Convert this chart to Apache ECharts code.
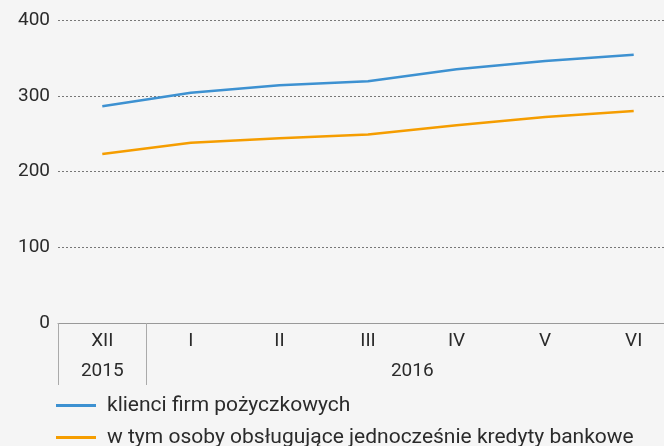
<!DOCTYPE html>
<html>
<head>
<meta charset="utf-8">
<script src="https://cdn.jsdelivr.net/npm/echarts@6/dist/echarts.min.js"></script>
<style>
  html, body { margin: 0; padding: 0; background: #f5f5f5; overflow: hidden; }
  #figure { width: 690px; height: 446px; }
</style>
</head>
<body>
<div id="figure"></div>
<script>
// months (XII 2015 - VI 2016), values in thousands of clients
let months = ['XII', 'I', 'II', 'III', 'IV', 'V', 'VI'];
let years = [{ label: '2015', from: 0, to: 0 }, { label: '2016', from: 1, to: 6 }];
let series_names = ['klienci firm pożyczkowych', 'w tym osoby obsługujące jednocześnie kredyty bankowe'];
let klienci = [286, 304, 314, 319, 335, 346, 354];
let w_tym = [223, 238, 244, 249, 261, 272, 280];
let y_ticks = [0, 100, 200, 300, 400];

let font = 'Roboto';
let fontSize = 19;
let textColor = '#2b2b2b';
let figure = document.getElementById('figure');
let myChart = echarts.init(figure);

function legend_item(name, top) {
    return {
        left: 56,
        top: top,
        padding: 0,
        itemWidth: 40,
        itemHeight: 3,
        icon: 'rect',
        textStyle: { fontFamily: font, fontSize: 21, color: textColor, padding: [0, 0, 0, 6] },
        data: [name]
    };
}

myChart.setOption({
    backgroundColor: '#f5f5f5',
    animation: false,
    textStyle: { fontFamily: font },
    grid: { left: 58, top: 20, width: 620, height: 303 },
    legend: [legend_item(series_names[0], 395), legend_item(series_names[1], 427)],
    xAxis: {
        type: 'category',
        data: months,
        boundaryGap: true,
        axisLine: { lineStyle: { color: '#999', width: 1 } },
        axisTick: {
            show: true,
            length: 62,
            interval: function (index) { return index <= 1; },
            lineStyle: { color: '#aaa', width: 1 }
        },
        axisLabel: { color: textColor, fontSize: fontSize, margin: 9, fontFamily: font }
    },
    yAxis: {
        type: 'value',
        min: y_ticks[0],
        max: y_ticks[y_ticks.length - 1],
        interval: 100,
        axisLine: { show: false },
        axisTick: { show: false },
        axisLabel: { color: textColor, fontSize: fontSize, margin: 8, fontFamily: font },
        splitLine: { lineStyle: { color: '#777', type: [2, 2], width: 1 } }
    },
    series: [
        {
            name: series_names[0],
            type: 'line',
            data: klienci,
            symbol: 'none',
            color: '#3d91d1',
            lineStyle: { width: 2.5, color: '#3d91d1' }
        },
        {
            name: series_names[1],
            type: 'line',
            data: w_tym,
            symbol: 'none',
            color: '#f59d00',
            lineStyle: { width: 2.5, color: '#f59d00' }
        }
    ]
});

// year labels under the month labels, centred over their months
let graphics = [];
for (let i = 0; i < years.length; i++) {
    let x1 = myChart.convertToPixel({ xAxisIndex: 0 }, months[years[i].from]);
    let x2 = myChart.convertToPixel({ xAxisIndex: 0 }, months[years[i].to]);
    let y0 = myChart.convertToPixel({ yAxisIndex: 0 }, 0);
    graphics.push({
        type: 'text',
        x: (x1 + x2) / 2,
        y: y0 + 48,
        style: {
            text: years[i].label,
            fill: textColor,
            font: fontSize + 'px ' + font,
            textAlign: 'center',
            textVerticalAlign: 'middle'
        }
    });
}
myChart.setOption({ graphic: graphics });
</script>
</body>
</html>
